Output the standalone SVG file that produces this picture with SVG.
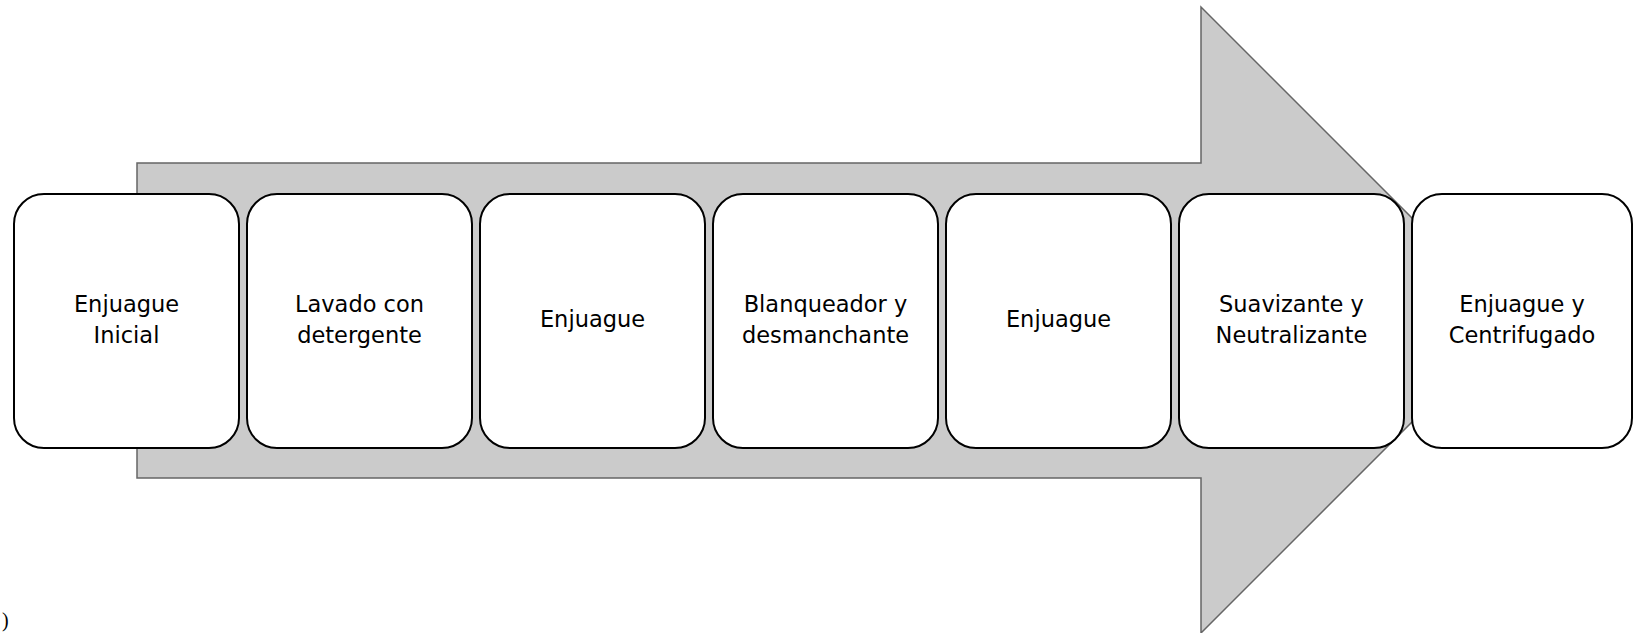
<svg xmlns="http://www.w3.org/2000/svg" width="1634" height="633" viewBox="0 0 1634 633">
  <style>
    .step { fill: #ffffff; stroke: #000000; stroke-width: 2; }
    .lbl { font-family: "DejaVu Sans", "Liberation Sans", sans-serif; font-size: 22.5px; fill: #000000; text-anchor: middle; }
  </style>
  <rect width="1634" height="633" fill="#ffffff"/>

  <!-- process arrow behind the steps -->
  <g id="connectors">
    <polygon points="137,163 1201,163 1201,7 1514,320 1201,633 1201,478 137,478" fill="#cbcbcb" stroke="#666666" stroke-width="1.5"/>
  </g>

  <g id="step1">
    <rect class="step" x="14" y="194" width="225" height="254" rx="30" ry="30"/>
    <text class="lbl" x="126.5" y="312">Enjuague</text>
    <text class="lbl" x="126.5" y="343">Inicial</text>
  </g>
  <g id="step2">
    <rect class="step" x="247" y="194" width="225" height="254" rx="30" ry="30"/>
    <text class="lbl" x="359.5" y="312">Lavado con</text>
    <text class="lbl" x="359.5" y="343">detergente</text>
  </g>
  <g id="step3">
    <rect class="step" x="480" y="194" width="225" height="254" rx="30" ry="30"/>
    <text class="lbl" x="592.5" y="327">Enjuague</text>
  </g>
  <g id="step4">
    <rect class="step" x="713" y="194" width="225" height="254" rx="30" ry="30"/>
    <text class="lbl" x="825.5" y="312">Blanqueador y</text>
    <text class="lbl" x="825.5" y="343">desmanchante</text>
  </g>
  <g id="step5">
    <rect class="step" x="946" y="194" width="225" height="254" rx="30" ry="30"/>
    <text class="lbl" x="1058.5" y="327">Enjuague</text>
  </g>
  <g id="step6">
    <rect class="step" x="1179" y="194" width="225" height="254" rx="30" ry="30"/>
    <text class="lbl" x="1291.5" y="312">Suavizante y</text>
    <text class="lbl" x="1291.5" y="343">Neutralizante</text>
  </g>
  <g id="step7">
    <rect class="step" x="1412" y="194" width="220" height="254" rx="30" ry="30"/>
    <text class="lbl" x="1522" y="312">Enjuague y</text>
    <text class="lbl" x="1522" y="343">Centrifugado</text>
  </g>

  <text x="2" y="627" font-family="Liberation Serif, serif" font-size="20" fill="#000000">)</text>
</svg>
